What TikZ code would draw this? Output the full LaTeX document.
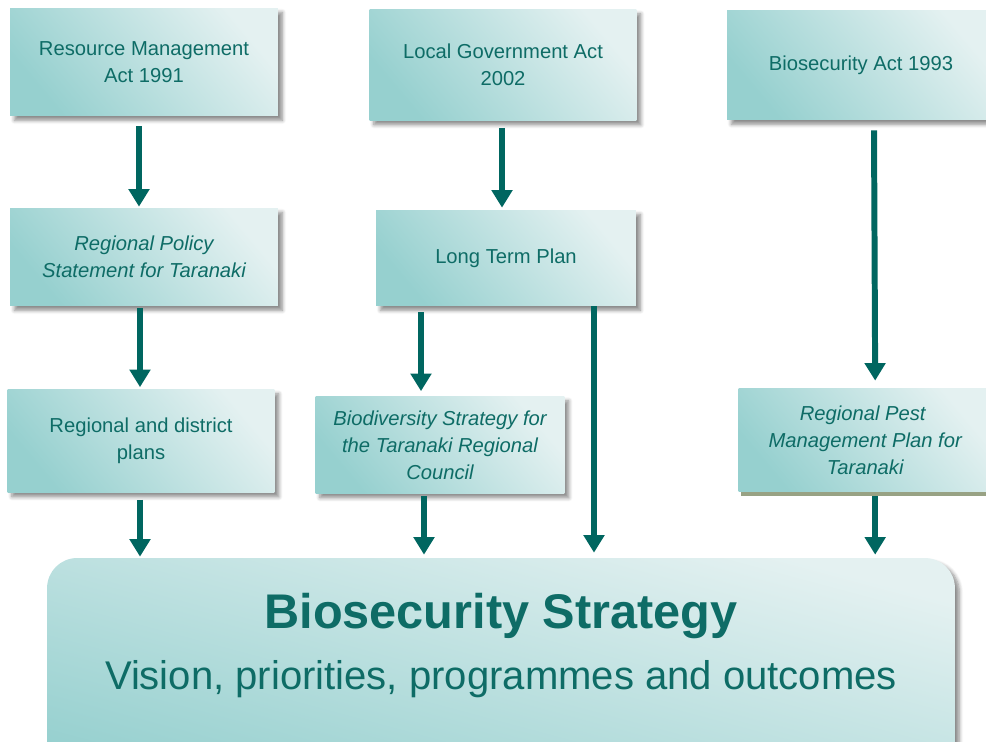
\documentclass[tikz,border=0pt]{standalone}
\usepackage{fontspec}
\setmainfont{Liberation Sans}
\usetikzlibrary{arrows.meta,shadows,shadows.blur}

\definecolor{tealtext}{RGB}{14,108,102}
\definecolor{tealarrow}{RGB}{0,102,96}
\definecolor{boxlight}{RGB}{228,241,241}
\definecolor{boxdark}{RGB}{150,208,207}
\definecolor{olivesh}{RGB}{152,162,132}

\tikzset{
  boxfill/.style={shading=axis, top color=boxlight, bottom color=boxdark, shading angle=-50,
    text=tealtext, align=center, font=\fontsize{11.5}{15.3}\selectfont},
  box/.style={boxfill,
    blur shadow={shadow xshift=2.5pt, shadow yshift=-2.5pt, shadow blur steps=6, shadow opacity=45}},
  flow/.style={draw=tealarrow, line width=3.4pt, -{Triangle[width=11.5pt,length=10pt]}}
}

\begin{document}
\begin{tikzpicture}[x=0.02cm,y=-0.02cm]
\useasboundingbox (0,0) rectangle (986,742);

% top row: the acts
\node[box, minimum width=5.36cm, minimum height=2.16cm] (rma) at (144,62) {Resource Management\\Act 1991};
\node[box, minimum width=5.34cm, minimum height=2.22cm] (lga) at (503,65) {Local Government Act\\2002};
\node[box, minimum width=5.36cm, minimum height=2.2cm] (bact) at (861,65) {Biosecurity Act 1993};

% second row
\node[box, minimum width=5.36cm, minimum height=1.96cm] (rps) at (144,257) {\itshape Regional Policy\\\itshape Statement for Taranaki};
\node[box, minimum width=5.2cm, minimum height=1.92cm] (ltp) at (506,258) {Long Term Plan};

% third row
\node[box, minimum width=5.34cm, minimum height=2.06cm] (rd) at (141,441) {Regional and district\\plans};
\node[box, minimum width=4.98cm, minimum height=1.94cm] (bio) at (440,445) {\itshape Biodiversity Strategy for\\\itshape the Taranaki Regional\\\itshape Council};
\node[boxfill, minimum width=5.06cm, minimum height=2.08cm,
  drop shadow={shadow xshift=1.5pt, shadow yshift=-2pt, fill=olivesh, opacity=1}]
  (rpmp) at (992,440) [anchor=east] {\hspace*{-.1cm}\itshape Regional Pest\\\itshape Management Plan for\\\itshape Taranaki};

% the strategy
\node[box, shading angle=-15, rounded corners=0.6cm, minimum width=18.16cm, minimum height=4.64cm] (big) at (501,674) {};
\node[text=tealtext, font=\fontsize{27.7}{32}\selectfont\bfseries] (title) at (501,616) {Biosecurity Strategy};
\node[text=tealtext, font=\fontsize{22.8}{27}\selectfont] (sub) at (501,679) {Vision, priorities, programmes and outcomes};

% arrows
\draw[flow] ([shift={(-5,10)}]rma.south) -- ([shift={(-5,-1)}]rps.north);
\draw[flow] ([shift={(-1,7)}]lga.south) -- ([shift={(-4,-2)}]ltp.north);
\draw[flow] ([shift={(13,10)}]bact.south) -- ([shift={(10,-7)}]rpmp.north);
\draw[flow] ([shift={(-4,2)}]rps.south) -- ([shift={(-1,-2)}]rd.north);
\draw[flow] ([shift={(-85,6)}]ltp.south) -- ([shift={(-19,-5)}]bio.north);
\draw[flow] ([shift={(88,0)}]ltp.south) -- ([shift={(88,-5)}]ltp.south |- big.north);
\draw[flow] ([shift={(-1,7)}]rd.south) -- ([shift={(-1,-1)}]rd.south |- big.north);
\draw[flow] ([shift={(-16,2)}]bio.south) -- ([shift={(-16,-3)}]bio.south |- big.north);
\draw[flow] ([shift={(10,4)}]rpmp.south) -- ([shift={(10,-3)}]rpmp.south |- big.north);
\end{tikzpicture}
\end{document}
